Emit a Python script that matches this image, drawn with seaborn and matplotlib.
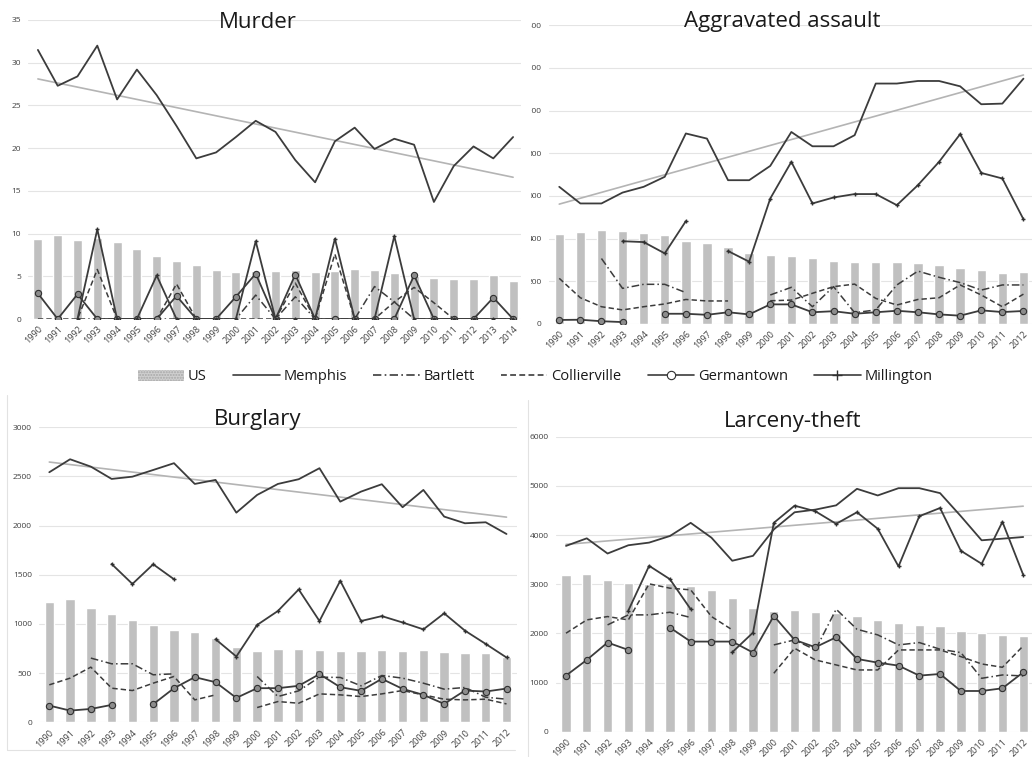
import numpy as np
import matplotlib
matplotlib.use('Agg')
import matplotlib.pyplot as plt
import seaborn as sns
from matplotlib.lines import Line2D
from matplotlib.patches import Patch, Rectangle

nan = np.nan

# ---- data (rates per 100,000) ----
years_long = [str(y) for y in range(1990, 2015)]
years = [str(y) for y in range(1990, 2013)]

murder_us = [9.4, 9.8, 9.3, 9.5, 9.0, 8.2, 7.4, 6.8, 6.3, 5.7, 5.5, 5.6, 5.6, 5.7, 5.5,
             5.6, 5.8, 5.7, 5.4, 5.0, 4.8, 4.7, 4.7, 5.2, 4.5]
murder_memphis = [31.5, 27.3, 28.4, 32.0, 25.7, 29.2, 26.2, 22.6, 18.8, 19.5, 21.3, 23.2, 21.9,
                  18.6, 16.0, 20.8, 22.4, 19.9, 21.1, 20.4, 13.7, 17.9, 20.2, 18.8, 21.3]
murder_bartlett = [nan, nan, 0, 0, 0, 0, 0, 0, 0, 0, 0, 2.8, 0, 2.6, 0, 0, 0, 3.8, 2.0, 0,
                   0, 0, 0, 0, 0]
murder_collierville = [0, 0, 0, 5.8, 0, 0, 0, 4.1, 0, 0, 0, 0, 0, 4.2, 0, 7.6, 0, 0, 2.0, 3.7,
                       1.9, 0, 0, 0, 0]
murder_germantown = [3.0, 0, 2.9, 0, 0, 0, 0, 2.7, 0, 0, 2.6, 5.3, 0, 5.2, 0, 0, 0, 0, 0, 5.1,
                     0, 0, 0, 2.5, 0]
murder_millington = [nan, nan, 0, 10.5, 0, 0, 5.1, 0, 0, 0, 0, 9.1, 0, 0, 0, 9.4, 0, 0, 9.7, 0,
                     0, 0, 0, 0, 0]

assault_us = [421, 432, 440, 437, 428, 417, 389, 381, 359, 334, 323, 318, 307, 295, 289, 290,
              292, 286, 278, 264, 253, 240, 242]
assault_memphis = [643, 565, 565, 616, 643, 690, 893, 869, 674, 674, 741, 900, 833, 833, 885,
                   1127, 1127, 1139, 1139, 1114, 1030, 1033, 1150]
assault_bartlett = [nan, nan, 307, 167, 186, 186, 147, nan, nan, nan, 136, 172, 81, 175, 53, 66,
                    183, 248, 219, 194, 159, 183, 183]
assault_collierville = [214, 123, 81, 66, 81, 94, 115, 108, 108, nan, 109, 112, 144, 175, 187,
                        120, 89, 115, 123, 183, 136, 81, 140]
assault_germantown = [19, 20, 13, 9, nan, 48, 48, 43, 55, 45, 92, 92, 55, 60, 48, 55, 62, 55, 45,
                      39, 64, 56, 61]
assault_millington = [nan, nan, nan, 388, 384, 331, 482, nan, 342, 292, 588, 760, 565, 593, 609,
                      609, 557, 651, 760, 890, 708, 682, 491]

burglary_us = [1227, 1251, 1166, 1099, 1041, 987, 942, 919, 858, 763, 728, 742, 745, 739, 728,
               728, 732, 728, 732, 718, 708, 708, 667]
burglary_memphis = [2543, 2675, 2600, 2475, 2498, 2566, 2635, 2424, 2465, 2132, 2312, 2424, 2472,
                    2584, 2244, 2346, 2421, 2187, 2363, 2092, 2024, 2034, 1915]
burglary_bartlett = [nan, nan, 653, 595, 595, 483, 493, nan, nan, nan, 466, 262, 320, 459, 456,
                     371, 476, 449, 398, 337, 354, 255, 235]
burglary_collierville = [381, 449, 561, 347, 323, 398, 466, 228, 279, nan, 150, 211, 194, 289,
                         279, 262, 289, 323, 279, 235, 228, 235, 187]
burglary_germantown = [170, 119, 136, 177, nan, 184, 347, 459, 408, 248, 347, 347, 371, 490, 357,
                       320, 442, 340, 279, 187, 323, 313, 343]
burglary_millington = [nan, nan, nan, 1610, 1407, 1607, 1455, nan, 845, 669, 990, 1132, 1351, 1030,
                       1439, 1030, 1080, 1015, 945, 1108, 932, 797, 659]

larceny_us = [3177, 3211, 3089, 3021, 3007, 3021, 2967, 2872, 2716, 2525, 2464, 2478, 2430, 2424,
              2356, 2274, 2206, 2172, 2152, 2057, 2003, 1969, 1948]
larceny_memphis = [3779, 3933, 3624, 3792, 3846, 3980, 4248, 3946, 3477, 3577, 4114, 4463, 4517,
                   4604, 4940, 4805, 4953, 4953, 4852, 4383, 3893, 3926, 3960]
larceny_bartlett = [nan, nan, 2172, 2376, 2376, 2430, 2322, nan, nan, nan, 1765, 1867, 1663, 2491,
                    2084, 1969, 1765, 1813, 1677, 1609, 1086, 1154, 1134]
larceny_collierville = [2003, 2274, 2342, 2274, 3007, 2919, 2885, 2342, 2071, nan, 1188, 1697,
                        1460, 1358, 1256, 1256, 1663, 1663, 1663, 1527, 1378, 1310, 1745]
larceny_germantown = [1141, 1460, 1813, 1663, nan, 2118, 1833, 1833, 1833, 1609, 2356, 1867, 1718,
                      1921, 1480, 1405, 1344, 1141, 1174, 828, 828, 883, 1208]
larceny_millington = [nan, nan, nan, 2464, 3374, 3102, 2491, nan, 1616, 2016, 4248, 4597, 4483,
                      4228, 4463, 4128, 3362, 4383, 4550, 3680, 3415, 4268, 3191]

sns.set_style('white')
plt.rcParams['font.family'] = ['Open Sans', 'DejaVu Sans']

W, H = 1032, 757
fig = plt.figure(figsize=(W / 100, H / 100), dpi=100)

LINE = '#3c3c3c'
BAR = '#c0c0c0'
TREND = '#b4b4b4'
styles = {
    'Memphis': dict(color=LINE, lw=1.3),
    'Bartlett': dict(color=LINE, lw=1.1, linestyle=(0, (5, 2, 1, 2))),
    'Collierville': dict(color=LINE, lw=1.1, linestyle=(0, (3.5, 2))),
    'Germantown': dict(color=LINE, lw=1.3, marker='o', markersize=4.5,
                       markerfacecolor='#8c8c8c', markeredgecolor='#303030', markeredgewidth=0.8),
    'Millington': dict(color=LINE, lw=1.3, marker='+', markersize=3,
                       markeredgecolor='#303030', markeredgewidth=1.0),
}


def draw_series(ax, vals, st):
    y = np.asarray(vals, float)
    x = np.arange(len(y))
    idx = np.where(~np.isnan(y))[0]
    for run in np.split(idx, np.where(np.diff(idx) > 1)[0] + 1):
        if len(run):
            sns.lineplot(x=x[run], y=y[run], ax=ax, legend=False, zorder=4, **st)


def panel(left, top, width, bottom, cats, us, towns, ymax, ystep, title, tx, ty):
    ax = fig.add_axes([left / W, 1 - bottom / H, width / W, (bottom - top) / H])
    n = len(cats)
    sns.barplot(x=cats, y=us, color=BAR, width=0.45, ax=ax, zorder=2, saturation=1)
    memphis = towns['Memphis']
    # linear trend of Memphis, as in the source charts
    sns.regplot(x=np.arange(n), y=np.asarray(memphis, float), ax=ax, scatter=False, ci=None,
                truncate=True, line_kws=dict(color=TREND, lw=1.2, zorder=3))
    for name, vals in towns.items():
        draw_series(ax, vals, styles[name])
    ax.set_xlim(-0.5, n - 0.5)
    ax.set_ylim(0, ymax)
    ticks = np.arange(0, ymax + 1e-9, ystep)
    ax.set_yticks(ticks)
    ax.set_yticklabels([f'{v:g}' for v in ticks])
    ax.set_xticks(np.arange(n))
    ax.set_xticklabels(cats, rotation=45, ha='right', rotation_mode='anchor')
    ax.grid(axis='y', color='#e4e4e4', lw=0.8, zorder=0)
    ax.set_axisbelow(True)
    for s in ax.spines.values():
        s.set_visible(False)
    ax.tick_params(axis='both', length=0, labelsize=6, labelcolor='#404040')
    ax.tick_params(axis='x', pad=4, labelsize=6.5)
    ax.tick_params(axis='y', pad=5)
    ax.set_xlabel('')
    ax.set_ylabel('')
    fig.text(tx / W, 1 - ty / H, title, ha='center', va='center', fontsize=16, color='#1a1a1a')
    return ax


ax1 = panel(28, 20, 495, 319, years_long, murder_us,
            {'Memphis': murder_memphis, 'Bartlett': murder_bartlett,
             'Collierville': murder_collierville, 'Germantown': murder_germantown,
             'Millington': murder_millington}, 35, 5, 'Murder', 258, 22)

ax2 = panel(548.7, 25.3, 485.3, 324, years, assault_us,
            {'Memphis': assault_memphis, 'Bartlett': assault_bartlett,
             'Collierville': assault_collierville, 'Germantown': assault_germantown,
             'Millington': assault_millington}, 1400, 200, 'Aggravated assault', 782, 22)

ax3 = panel(38.9, 427.3, 478, 722.3, years, burglary_us,
            {'Memphis': burglary_memphis, 'Bartlett': burglary_bartlett,
             'Collierville': burglary_collierville, 'Germantown': burglary_germantown,
             'Millington': burglary_millington}, 3000, 500, 'Burglary', 258, 420)

ax4 = panel(555.6, 436.7, 478, 731.7, years, larceny_us,
            {'Memphis': larceny_memphis, 'Bartlett': larceny_bartlett,
             'Collierville': larceny_collierville, 'Germantown': larceny_germantown,
             'Millington': larceny_millington}, 6000, 1000, 'Larceny-theft', 793, 422)

# the assault panel's axis labels are partly hidden behind the murder panel
fig.patches.append(Rectangle((521 / W, 1 - 335 / H), 9.8 / W, 330 / H,
                             transform=fig.transFigure, facecolor='white', edgecolor='none',
                             zorder=10))

# faint frame remnants of the pasted charts
fig.add_artist(Line2D([7 / W, 7 / W], [1 - 395 / H, 1 - 750 / H], color='#e2e2e2', lw=0.8))
fig.add_artist(Line2D([7 / W, 515 / W], [1 - 750 / H, 1 - 750 / H], color='#e2e2e2', lw=0.8))
fig.add_artist(Line2D([528 / W, 528 / W], [1 - 400 / H, 1 - 757 / H], color='#e2e2e2', lw=0.8))

handles = [Patch(facecolor='#cfcfcf', edgecolor='#a8a8a8', hatch='......', lw=0)]
for name in ['Memphis', 'Bartlett', 'Collierville', 'Germantown', 'Millington']:
    st = dict(styles[name])
    st['lw'] = 1.2
    if name == 'Germantown':
        st['markerfacecolor'] = 'white'
        st['markersize'] = 6
    if name == 'Millington':
        st['markersize'] = 7
    handles.append(Line2D([0], [0], **st))
labels = ['US', 'Memphis', 'Bartlett', 'Collierville', 'Germantown', 'Millington']
fig.legend(handles, labels, loc='center', bbox_to_anchor=(535 / W, 1 - 377 / H), ncol=6,
           frameon=False, fontsize=10.5, handlelength=3.2, handletextpad=0.25,
           columnspacing=1.8, labelcolor='#1a1a1a')

fig.savefig('out.png', dpi=100)
